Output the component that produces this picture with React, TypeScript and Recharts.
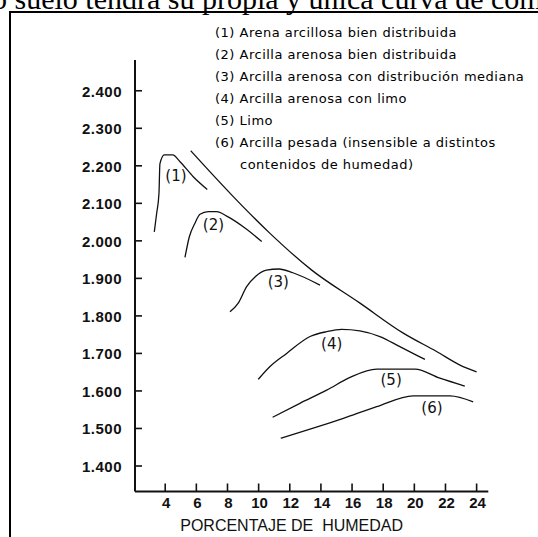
import React from "react";
import { ComposedChart, Line, Scatter, XAxis, YAxis } from "recharts";

// humedad (%) en el eje X, densidad seca (kg/m3) en el eje Y
const moistureTicks = [4, 6, 8, 10, 12, 14, 16, 18, 20, 22, 24];
const densityTicks = [1400, 1500, 1600, 1700, 1800, 1900, 2000, 2100, 2200, 2300, 2400];

const soilNames = [
  "Arena arcillosa bien distribuida",
  "Arcilla arenosa bien distribuida",
  "Arcilla arenosa con distribución mediana",
  "Arcilla arenosa con limo",
  "Limo",
  "Arcilla pesada (insensible a distintos\ncontenidos de humedad)",
];

const curve1 = [
  { x: 3.3, y: 2024 }, { x: 3.45, y: 2073 }, { x: 3.6, y: 2127 }, { x: 3.66, y: 2205 },
  { x: 3.94, y: 2229 }, { x: 4.48, y: 2229 }, { x: 4.95, y: 2211 }, { x: 5.8, y: 2171 },
  { x: 6.7, y: 2137 },
];
const curve2 = [
  { x: 5.27, y: 1956 }, { x: 5.55, y: 2011 }, { x: 5.91, y: 2047 }, { x: 6.23, y: 2071 },
  { x: 6.77, y: 2078 }, { x: 7.31, y: 2078 }, { x: 7.95, y: 2066 }, { x: 9.23, y: 2031 },
  { x: 10.2, y: 1998 },
];
const curve3 = [
  { x: 8.16, y: 1811 }, { x: 8.69, y: 1834 }, { x: 9.23, y: 1878 }, { x: 9.8, y: 1905 },
  { x: 10.5, y: 1922 }, { x: 11.3, y: 1925 }, { x: 12.2, y: 1915 }, { x: 13.94, y: 1882 },
];
const curve4 = [
  { x: 9.98, y: 1631 }, { x: 10.73, y: 1665 }, { x: 11.8, y: 1700 }, { x: 13.3, y: 1745 },
  { x: 14.37, y: 1758 }, { x: 15.33, y: 1764 }, { x: 16.5, y: 1760 }, { x: 17.79, y: 1745 },
  { x: 19.07, y: 1718 }, { x: 20.68, y: 1684 },
];
const curve5 = [
  { x: 10.9, y: 1530 }, { x: 12.65, y: 1567 }, { x: 14.37, y: 1602 }, { x: 15.87, y: 1636 },
  { x: 17.58, y: 1658 }, { x: 20.04, y: 1658 }, { x: 21.64, y: 1634 }, { x: 23.24, y: 1613 },
];
const curve6 = [
  { x: 11.42, y: 1474 }, { x: 13.3, y: 1498 }, { x: 15.44, y: 1527 }, { x: 17.58, y: 1558 },
  { x: 19.93, y: 1587 }, { x: 22.29, y: 1587 }, { x: 23.78, y: 1571 },
];
// curva de saturación
const saturation = [
  { x: 5.64, y: 2240 }, { x: 8.37, y: 2118 }, { x: 10.73, y: 2020 }, { x: 13.41, y: 1922 },
  { x: 16.51, y: 1834 }, { x: 19.29, y: 1754 }, { x: 21.43, y: 1705 }, { x: 22.93, y: 1669 },
  { x: 24.0, y: 1651 },
];

const curveLabels = [
  { x: 4.69, y: 2172, name: "(1)" },
  { x: 7.1, y: 2041, name: "(2)" },
  { x: 11.26, y: 1891, name: "(3)" },
  { x: 14.69, y: 1725, name: "(4)" },
  { x: 18.51, y: 1628, name: "(5)" },
  { x: 21.13, y: 1555, name: "(6)" },
];

const curves = [curve1, curve2, curve3, curve4, curve5, curve6, saturation];

const INK = "#111";
const tickFont = "'Liberation Sans', Arial, sans-serif";

function YTick({ x, y, payload }: any) {
  return (
    <g>
      <line x1={x} y1={y} x2={x + 7} y2={y} stroke={INK} strokeWidth={1.6} />
      <text x={x - 13} y={y} dy={6} textAnchor="end" fill={INK}
            style={{ fontFamily: tickFont, fontSize: 15, fontWeight: 700, letterSpacing: 0.5 }}>
        {(payload.value / 1000).toFixed(3)}
      </text>
    </g>
  );
}

function XTick({ x, y, payload }: any) {
  return (
    <g>
      <line x1={x} y1={y} x2={x} y2={y - 8} stroke={INK} strokeWidth={1.6} />
      <text x={x + 1} y={y + 16.5} textAnchor="middle" fill={INK}
            style={{ fontFamily: tickFont, fontSize: 15, fontWeight: 700 }}>
        {payload.value}
      </text>
    </g>
  );
}

function XTitle({ viewBox }: any) {
  return (
    <text x={viewBox.x + viewBox.width / 2 - 20} y={viewBox.y + 39} textAnchor="middle" fill={INK}
          style={{ fontFamily: tickFont, fontSize: 16, whiteSpace: "pre" }}>
      {"PORCENTAJE DE \u00a0HUMEDAD"}
    </text>
  );
}

function CurveLabel({ cx, cy, payload }: any) {
  return (
    <text x={cx} y={cy} textAnchor="middle" dominantBaseline="central" fill={INK}
          style={{ fontFamily: "'DejaVu Sans', sans-serif", fontSize: 15 }}>
      {payload.name}
    </text>
  );
}

export default function App() {
  return (
    <div style={{ position: "absolute", left: 0, top: 0, width: 538, height: 537, overflow: "hidden", background: "#fff" }}>
      <div style={{
        position: "absolute", left: -8, top: -16, whiteSpace: "nowrap",
        fontFamily: "'Liberation Serif', 'Times New Roman', serif", fontSize: 30, lineHeight: 1, color: "#000",
      }}>
        o suelo tendrá su propia y única curva de compactación
      </div>
      <div style={{
        position: "absolute", left: 8.5, top: 10.5, width: 600, height: 600,
        borderLeft: "2px solid #000", borderTop: "2px solid #000",
      }} />

      <div style={{
        position: "absolute", left: 215, top: 22, color: "#000",
        fontFamily: "'DejaVu Sans', sans-serif", fontSize: 13, letterSpacing: 0.5, lineHeight: "22px",
      }}>
        {soilNames.map((name, i) => (
          <div key={i} style={{ whiteSpace: "pre-line", paddingLeft: 25, textIndent: -25 }}>
            {`(${i + 1}) ${name}`}
          </div>
        ))}
      </div>

      <div style={{ position: "absolute", left: 0, top: 0 }}>
        <ComposedChart width={538} height={537} margin={{ top: 60, right: 49.7, bottom: 0, left: 75 }}>
          <XAxis
            type="number" dataKey="x" domain={[2.06, 24.75]} allowDataOverflow
            ticks={moistureTicks} interval={0} height={45.5}
            tickSize={0} tickMargin={0} tickLine={false}
            axisLine={{ stroke: INK, strokeWidth: 2 }}
            tick={<XTick />}
            label={<XTitle />}
          />
          <YAxis
            type="number" dataKey="y" domain={[1332, 2482]} allowDataOverflow
            ticks={densityTicks} interval={0} width={60}
            tickSize={0} tickMargin={0} tickLine={false}
            axisLine={{ stroke: INK, strokeWidth: 2 }}
            tick={<YTick />}
          />
          {curves.map((c, i) => (
            <Line key={i} data={c} dataKey="y" type="monotone" stroke={INK} strokeWidth={1.3}
                  dot={false} activeDot={false} isAnimationActive={false} />
          ))}
          <Scatter data={curveLabels} dataKey="y" shape={<CurveLabel />} isAnimationActive={false} />
        </ComposedChart>
      </div>
    </div>
  );
}
